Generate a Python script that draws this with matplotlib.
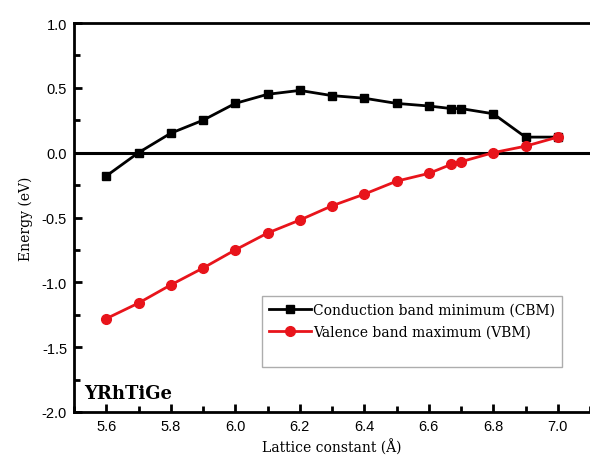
import matplotlib.pyplot as plt
from matplotlib.ticker import MultipleLocator

plt.rcParams['axes.unicode_minus'] = False

# lattice constants (Angstrom)
a = [5.6, 5.7, 5.8, 5.9, 6.0, 6.1, 6.2, 6.3, 6.4, 6.5, 6.6, 6.67, 6.7, 6.8, 6.9, 7.0]
# conduction band minimum (eV)
cbm = [-0.18, 0.0, 0.15, 0.25, 0.38, 0.45, 0.48, 0.44, 0.42, 0.38, 0.36, 0.34, 0.34, 0.30, 0.12, 0.12]
# valence band maximum (eV)
vbm = [-1.28, -1.16, -1.02, -0.89, -0.75, -0.62, -0.52, -0.41, -0.32, -0.22, -0.16, -0.09, -0.07, 0.0, 0.05, 0.12]

fig = plt.figure(figsize=(5.9, 4.6), dpi=100)
ax = fig.add_axes([74/590, 47/460, 516/590, 389/460])

ax.axhline(0, color='black', lw=2.2, zorder=1)
ax.plot(a, cbm, color='black', lw=2, marker='s', ms=6, label='Conduction band minimum (CBM)', zorder=2)
ax.plot(a, vbm, color='#e8141b', lw=2, marker='o', ms=7, label='Valence band maximum (VBM)', zorder=3)
# blank row so the legend box keeps the empty space at its bottom
ax.plot([], [], ' ', label=' ')

ax.set_xlim(5.5, 7.1)
ax.set_ylim(-2.0, 1.0)
ax.xaxis.set_minor_locator(MultipleLocator(0.1))
ax.yaxis.set_major_locator(MultipleLocator(0.5))
ax.yaxis.set_minor_locator(MultipleLocator(0.25))
ax.set_xticks([5.6, 5.8, 6.0, 6.2, 6.4, 6.6, 6.8, 7.0])
ax.tick_params(which='major', direction='in', length=6, width=2)
ax.tick_params(which='minor', direction='in', length=4, width=2)
ax.tick_params(labelsize=10.5, pad=5)
for lbl in ax.get_xticklabels() + ax.get_yticklabels():
    lbl.set_family('Liberation Sans')

for s in ['left', 'top', 'bottom']:
    ax.spines[s].set_linewidth(2)
ax.spines['right'].set_visible(False)

ax.set_xlabel('Lattice constant (Å)', family='DejaVu Serif', fontsize=10, labelpad=4)
ax.set_ylabel('Energy (eV)', family='DejaVu Serif', fontsize=10, labelpad=6)

ax.text(0.02, 0.025, 'YRhTiGe', transform=ax.transAxes, family='DejaVu Serif',
        fontweight='bold', fontsize=13, va='bottom', ha='left')

leg = ax.legend(loc='upper left', bbox_to_anchor=(188/516, (413-297)/389),
                prop={'family': 'DejaVu Serif', 'size': 10}, frameon=True,
                fancybox=False, edgecolor='#999999', handlelength=3.0,
                handletextpad=0.15, borderpad=0.5, labelspacing=0.55, borderaxespad=0)
leg.get_frame().set_linewidth(1)

fig.savefig('out.png', dpi=100)
